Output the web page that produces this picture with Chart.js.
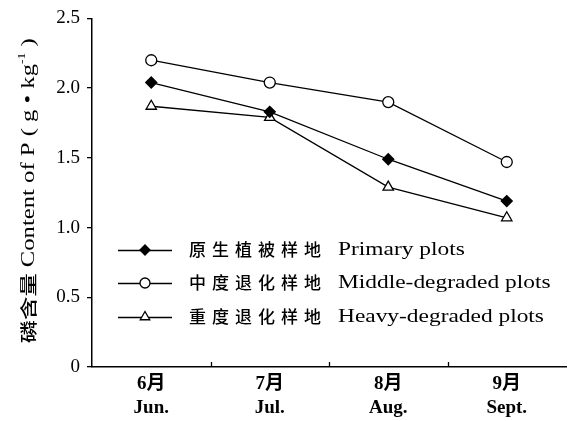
<!DOCTYPE html>
<html>
<head>
<meta charset="utf-8">
<script src="https://cdn.jsdelivr.net/npm/chart.js@4/dist/chart.umd.min.js"></script>
<style>
  html, body { margin: 0; padding: 0; background: #fff; }
  #wrap { width: 574px; height: 421px; }
</style>
</head>
<body>
<div id="wrap"><canvas id="c" width="574" height="421"></canvas></div>
<script>
// Months (Chinese / English)
const monthZh = ['6月', '7月', '8月', '9月'];
const monthEn = ['Jun.', 'Jul.', 'Aug.', 'Sept.'];

// Phosphorus content, g·kg-1
const primaryPlots = [2.04, 1.83, 1.49, 1.19];
const middleDegraded = [2.20, 2.04, 1.90, 1.47];
const heavyDegraded = [1.87, 1.79, 1.29, 1.07];

// Series names
const seriesZh = ['原生植被样地', '中度退化样地', '重度退化样地'];
const seriesEn = ['Primary plots', 'Middle-degraded plots', 'Heavy-degraded plots'];

// Y axis ticks
const yTicks = [0, 0.5, 1.0, 1.5, 2.0, 2.5];

const SERIF = '"Liberation Serif", "Times New Roman", "Noto Sans CJK SC", serif';
const CJK = '"Noto Sans CJK SC", sans-serif';

const common = { borderColor: '#000', borderWidth: 1.3, pointBorderColor: '#000', pointBorderWidth: 1.3, tension: 0, fill: false };

const datasets = [
  Object.assign({}, common, { label: seriesEn[0], data: primaryPlots, pointStyle: 'rectRot', pointRadius: 5.5, pointBackgroundColor: '#000' }),
  Object.assign({}, common, { label: seriesEn[1], data: middleDegraded, pointStyle: 'circle', pointRadius: 5.5, pointBackgroundColor: '#fff' }),
  Object.assign({}, common, { label: seriesEn[2], data: heavyDegraded, pointStyle: 'triangle', pointRadius: 6, pointBackgroundColor: '#fff' })
];

// Category boundary ticks on the x axis, the y-axis title and the in-plot legend
const decorations = {
  id: 'decorations',
  afterDraw(chart) {
    const ctx = chart.ctx;
    const xs = chart.scales.x;
    const area = chart.chartArea;
    ctx.save();
    ctx.strokeStyle = '#000';
    ctx.lineWidth = 1.3;
    for (let i = 1; i < monthEn.length; i++) {
      const x = Math.round((xs.getPixelForValue(i - 1) + xs.getPixelForValue(i)) / 2) + 0.5;
      ctx.beginPath();
      ctx.moveTo(x, area.bottom);
      ctx.lineTo(x, area.bottom - 5);
      ctx.stroke();
    }

    // Y-axis title, rotated
    ctx.save();
    ctx.translate(29, (area.top + area.bottom) / 2 - 2);
    ctx.rotate(-Math.PI / 2);
    ctx.fillStyle = '#000';
    ctx.textBaseline = 'middle';
    const parts = [
      { t: '磷含量', f: '500 17px ' + CJK },
      { t: ' Content of P ', f: '18px ' + SERIF },
      { t: '( ', f: '18px ' + SERIF },
      { t: 'g • kg', f: '18px ' + SERIF },
      { t: '-1', f: '10px ' + SERIF, sup: true },
      { t: ' )', f: '18px ' + SERIF }
    ];
    let total = 0;
    parts.forEach(p => { ctx.font = p.f; p.w = ctx.measureText(p.t).width; total += p.w; });
    const span = 305;
    const sx = span / total;
    ctx.scale(sx, 1);
    let px = -total / 2;
    parts.forEach(p => {
      ctx.font = p.f;
      ctx.textAlign = 'left';
      ctx.fillText(p.t, px, p.sup ? -7 : 0);
      px += p.w;
    });
    ctx.restore();

    // Legend inside the plot area
    const lx0 = area.left + 26, lx1 = area.left + 80, mx = area.left + 53;
    const rowY = [250, 283, 317];
    chart.data.datasets.forEach((ds, i) => {
      const y = rowY[i];
      ctx.strokeStyle = '#000';
      ctx.lineWidth = 1.3;
      ctx.beginPath();
      ctx.moveTo(lx0, y + 0.5);
      ctx.lineTo(lx1, y + 0.5);
      ctx.stroke();
      ctx.fillStyle = ds.pointBackgroundColor;
      ctx.strokeStyle = '#000';
      Chart.helpers.drawPoint(ctx, { pointStyle: ds.pointStyle, radius: ds.pointRadius - 0.5, rotation: 0, borderWidth: 1.3 }, mx, y);
      ctx.fillStyle = '#000';
      ctx.textBaseline = 'middle';
      ctx.textAlign = 'left';
      ctx.font = '500 17px ' + CJK;
      let tx = area.left + 97;
      for (const ch of seriesZh[i]) {
        ctx.fillText(ch, tx, y);
        tx += 23;
      }
      ctx.font = '18px ' + SERIF;
      ctx.save();
      ctx.translate(tx + 11, y);
      ctx.scale(1.3, 1);
      ctx.fillText(seriesEn[i], 0, 0);
      ctx.restore();
    });
    ctx.restore();
  }
};

new Chart(document.getElementById('c'), {
  type: 'line',
  data: {
    labels: monthZh.map((m, i) => [m, monthEn[i]]),
    datasets
  },
  options: {
    responsive: false,
    animation: false,
    events: [],
    layout: { padding: { top: 17, right: 8, left: 0, bottom: 0 } },
    plugins: { legend: { display: false }, tooltip: { enabled: false } },
    scales: {
      x: {
        offset: true,
        grid: { display: false },
        border: { display: true, color: '#000', width: 1.5 },
        ticks: { color: '#000', font: { family: SERIF, size: 19, weight: 'bold', lineHeight: 1.22 }, padding: -2 },
        afterFit(s) { s.height = 54; }
      },
      y: {
        min: 0,
        max: 2.5,
        afterBuildTicks(s) { s.ticks = yTicks.map(v => ({ value: v })); },
        grid: { drawOnChartArea: false, color: '#000', tickLength: 5, lineWidth: 1.3 },
        border: { display: true, color: '#000', width: 1.5 },
        ticks: {
          color: '#000',
          font: { family: SERIF, size: 19 },
          padding: 7,
          callback: v => (v === 0 ? '0' : v.toFixed(1))
        },
        afterFit(s) { s.width = 92; }
      }
    }
  },
  plugins: [decorations]
});
</script>
</body>
</html>
